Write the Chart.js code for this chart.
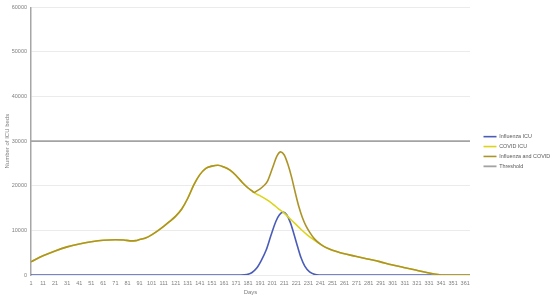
<!DOCTYPE html>
<html>
<head>
<meta charset="utf-8">
<script src="https://cdn.jsdelivr.net/npm/chart.js@4.4.1/dist/chart.umd.min.js"></script>
<style>
  html, body { margin: 0; padding: 0; background: #fff; }
  #wrap { width: 550px; height: 298px; }
</style>
</head>
<body>
<div id="wrap"><canvas id="icuChart" width="550" height="298"></canvas></div>
<script>
// x軸の目盛り（10日ごと）
const dayTicks = [1, 11, 21, 31, 41, 51, 61, 71, 81, 91, 101, 111, 121, 131, 141, 151, 161, 171, 181,
  191, 201, 211, 221, 231, 241, 251, 261, 271, 281, 291, 301, 311, 321, 331, 341, 351, 361];
const yTicks = [0, 10000, 20000, 30000, 40000, 50000, 60000];

const seriesNames = ['Influenza ICU', 'COVID ICU', 'Influenza and COVID', 'Threshold'];

// Influenza ICU
const fluDays = [1, 175, 180, 184, 188, 192, 196, 200, 204, 207, 210, 213, 216, 219, 222, 225, 228, 232, 236, 240, 365];
const fluBeds = [0, 0, 100, 500, 1500, 3300, 5600, 8900, 12000, 13500, 14100, 13500, 11800, 9200, 6400, 3800, 2000, 700, 150, 0, 0];

// COVID ICU
const covidDays = [1, 11, 21, 31, 41, 51, 61, 71, 78, 83, 88, 91, 96, 101, 106, 111, 116, 121, 126, 131, 136, 141, 146, 151, 156, 161, 166, 171, 176, 181, 184,
  187, 190, 194, 198, 202, 206, 210, 215, 220, 225, 230, 235, 240, 245, 250, 255, 260, 270, 280, 290, 300, 310, 320, 330, 340, 342, 365];
const covidBeds = [2950, 4300, 5400, 6300, 6950, 7450, 7800, 7900, 7850, 7650, 7700, 7950, 8300, 9000, 9900, 10900, 12000, 13200, 14800, 17200, 20200, 22500, 23900, 24400, 24600, 24200, 23500, 22300, 20800, 19500, 18900,
  18300, 17900, 17300, 16600, 15800, 14900, 14100, 12800, 11500, 10200, 9000, 8000, 7100, 6200, 5600, 5200, 4800, 4200, 3600, 3000, 2300, 1700, 1100, 500, 50, 0, 0];

// Influenza and COVID
const bothDays = [1, 11, 21, 31, 41, 51, 61, 71, 78, 83, 88, 91, 96, 101, 106, 111, 116, 121, 126, 131, 136, 141, 146, 151, 156, 161, 166, 171, 176, 181, 184,
  186, 188, 191, 194, 197, 201, 205, 208, 211, 214, 217, 220, 223, 226, 229, 232, 236, 242, 248, 255, 260, 270, 280, 290, 300, 310, 320, 330, 340, 342, 365];
const bothBeds = [2950, 4300, 5400, 6300, 6950, 7450, 7800, 7900, 7850, 7650, 7700, 7950, 8300, 9000, 9900, 10900, 12000, 13200, 14800, 17200, 20200, 22500, 23900, 24400, 24600, 24200, 23500, 22300, 20800, 19500, 18900,
  18500, 18800, 19300, 20000, 21000, 23800, 26700, 27600, 26900, 24800, 22000, 18600, 15400, 12900, 11000, 9600, 8100, 6700, 5900, 5200, 4800, 4200, 3600, 3000, 2300, 1700, 1100, 500, 50, 0, 0];

// Threshold
const thresholdDays = [1, 365];
const thresholdBeds = [30000, 30000];

const colors = ['#4a5cb8', '#dcd41a', '#ad9428', '#a3a3a3'];
const font = 'Liberation Sans, Arial, sans-serif';

function toPoints(days, beds) {
  return days.map((d, i) => ({ x: d, y: beds[i] }));
}

// 凡例の幅を固定し、グラフ領域の右端を合わせる
const legendWidthPlugin = {
  id: 'legendWidth',
  beforeLayout(chart) {
    const lg = chart.legend;
    if (lg && !lg._fixedFit) {
      const fit = lg.fit;
      lg.fit = function () { fit.call(this); this.width = 80; };
      lg._fixedFit = true;
    }
  },
  // 凡例を少し右へずらす
  afterLayout(chart) {
    const lg = chart.legend;
    if (lg) { lg.left += 9; lg.right += 9; }
  }
};

const lineSet = (i, days, beds, order, width) => ({
  label: seriesNames[i],
  data: toPoints(days, beds),
  borderColor: colors[i],
  backgroundColor: colors[i],
  borderWidth: width,
  pointRadius: 0,
  cubicInterpolationMode: 'monotone',
  order: order
});

new Chart(document.getElementById('icuChart'), {
  type: 'line',
  data: {
    datasets: [
      lineSet(0, fluDays, fluBeds, 4, 1.6),
      lineSet(1, covidDays, covidBeds, 3, 1.6),
      lineSet(2, bothDays, bothBeds, 2, 1.6),
      lineSet(3, thresholdDays, thresholdBeds, 1, 1.8)
    ]
  },
  options: {
    responsive: false,
    animation: false,
    layout: { padding: { top: 5, left: 0, right: 0, bottom: 0 } },
    plugins: {
      tooltip: { enabled: false },
      legend: {
        position: 'right',
        align: 'center',
        labels: {
          usePointStyle: true,
          pointStyle: 'line',
          pointStyleWidth: 13,
          boxHeight: 6,
          padding: 4.5,
          color: '#595959',
          font: { family: font, size: 5.4 },
          sort: (a, b) => a.datasetIndex - b.datasetIndex
        }
      }
    },
    scales: {
      x: {
        type: 'linear',
        min: 1,
        max: 365,
        afterBuildTicks: s => { s.ticks = dayTicks.map(v => ({ value: v })); },
        afterFit: s => { s.height = 23; },
        grid: { display: false, drawTicks: false },
        border: { display: false },
        ticks: { color: '#7f7f7f', font: { family: font, size: 5.5 }, padding: 5, maxRotation: 0, autoSkip: false,
          callback: v => String(v) },
        title: { display: true, text: 'Days', color: '#7f7f7f', font: { family: font, size: 6 }, padding: { top: 0, bottom: 2 } }
      },
      y: {
        min: 0,
        max: 60000,
        afterBuildTicks: s => { s.ticks = yTicks.map(v => ({ value: v })); },
        afterFit: s => { s.width = 31; },
        grid: { color: '#ebebeb', lineWidth: 1, drawTicks: false },
        border: { display: true, color: '#a6a6a6', width: 1.5 },
        ticks: { color: '#7f7f7f', font: { family: font, size: 5.5 }, padding: 4, callback: v => String(v) },
        title: { display: true, text: 'Number of ICU beds', color: '#7f7f7f', font: { family: font, size: 6 }, padding: { top: 4, bottom: 0 } }
      }
    }
  },
  plugins: [legendWidthPlugin]
});
</script>
</body>
</html>
